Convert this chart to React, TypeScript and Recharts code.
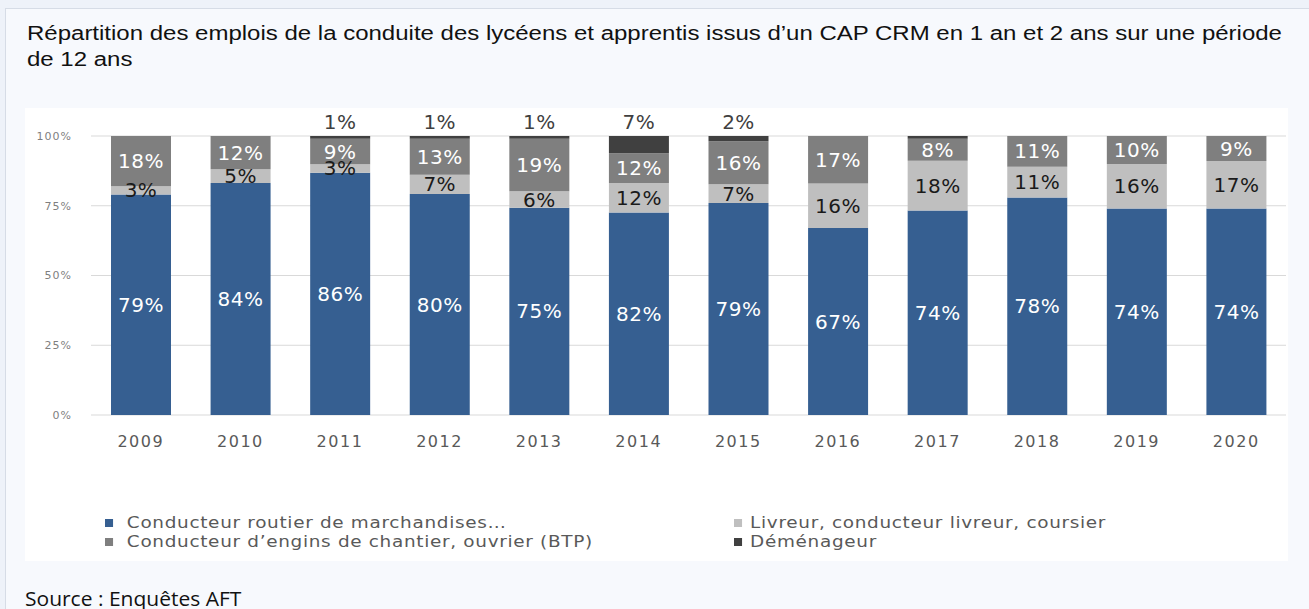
import { BarChart, Bar, XAxis, YAxis, CartesianGrid, LabelList } from 'recharts'

const years = ['2009', '2010', '2011', '2012', '2013', '2014', '2015', '2016', '2017', '2018', '2019', '2020']
const routier = [79, 84, 86, 80, 75, 82, 79, 67, 74, 78, 74, 74]
const livreur = [3, 5, 3, 7, 6, 12, 7, 16, 18, 11, 16, 17]
const engins = [18, 12, 9, 13, 19, 12, 16, 17, 8, 11, 10, 9]
const demenageur = [0, 0, 1, 1, 1, 7, 2, 0, 1, 0, 0, 0]
// 2017 has a thin dark slice but no label in the source
const demenageurLabels = [null, null, '1%', '1%', '1%', '7%', '2%', null, null, null, null, null]
const yTicks = [0, 0.25, 0.5, 0.75, 1]

const seriesNames = [
  'Conducteur routier de marchandises…',
  'Livreur, conducteur livreur, coursier',
  'Conducteur d’engins de chantier, ouvrier (BTP)',
  'Déménageur',
]
const colors = ['#365f91', '#bfbfbf', '#7f7f7f', '#404040']

const data = years.map((year, i) => ({
  year,
  routier: routier[i],
  livreur: livreur[i],
  engins: engins[i],
  demenageur: demenageur[i],
}))

const pct = (arr: number[]) => arr.map((v) => `${v}%`)

const chartFont = '"DejaVu Sans", sans-serif'

function rectOf(props: any) {
  const vb = props.viewBox || {}
  return {
    x: Number(props.x ?? vb.x),
    y: Number(props.y ?? vb.y),
    w: Number(props.width ?? vb.width),
    h: Number(props.height ?? vb.height),
  }
}

function labelText(x: number, y: number, t: string, fill: string) {
  return (
    <text
      x={x}
      y={y}
      fill={fill}
      textAnchor="middle"
      dominantBaseline="central"
      fontFamily={chartFont}
      fontSize={20}
      letterSpacing={0.5}
    >
      {t}
    </text>
  )
}

function makeLabel(texts: string[], fill: string) {
  return (props: any) => {
    const { x, y, w, h } = rectOf(props)
    const t = texts[props.index]
    if (!t || isNaN(x)) return null
    return labelText(x + w / 2, y + h / 2, t, fill)
  }
}

// the Déménageur labels sit above the stack; zero slices are not drawn,
// so they hang off the "engins" rects (present for every year) instead
function aboveLabel(props: any) {
  const { x, y, w, h } = rectOf(props)
  const i = props.index
  const t = demenageurLabels[i]
  if (!t || isNaN(x)) return null
  const top = y - (h * demenageur[i]) / engins[i]
  return labelText(x + w / 2, top - 14, t, '#404040')
}

export default function App() {
  return (
    <div style={{ position: 'absolute', left: 0, top: 0, width: 1309, height: 609, overflow: 'hidden', background: '#eef2f9' }}>
      <div style={{ position: 'absolute', left: 5, top: 8, width: 1320, height: 620, background: '#f7f9fd', border: '1px solid #d6dce6' }} />
      <div
        style={{
          position: 'absolute',
          left: 27,
          top: 20,
          fontFamily: '"Liberation Sans", Arial, sans-serif',
          fontSize: 20,
          lineHeight: '26px',
          color: '#111111',
          whiteSpace: 'nowrap',
          transform: 'scaleX(1.2)',
          transformOrigin: 'left top',
        }}
      >
        Répartition des emplois de la conduite des lycéens et apprentis issus d’un CAP CRM en 1 an et 2 ans sur une période
        <br />
        de 12 ans
      </div>

      <div style={{ position: 'absolute', left: 25, top: 108, width: 1263, height: 453, background: '#ffffff' }}>
        <BarChart width={1263} height={453} data={data} stackOffset="expand" margin={{ top: 28, right: 2, left: 0, bottom: 106 }}>
          <CartesianGrid stroke="#d9d9d9" vertical={false} />
          <XAxis
            dataKey="year"
            axisLine={false}
            tickLine={false}
            height={40}
            tickMargin={15}
            tick={{ fill: '#595959', fontSize: 16, fontFamily: chartFont, letterSpacing: 1.5 }}
          />
          <YAxis
            width={66}
            domain={[0, 1]}
            ticks={yTicks}
            axisLine={false}
            tickLine={false}
            tickMargin={13}
            tickFormatter={(v: number) => `${Math.round(v * 100)}%`}
            tick={{ fill: '#7f7f7f', fontSize: 11, fontFamily: chartFont, letterSpacing: 1 }}
          />
          <Bar dataKey="routier" stackId="a" fill={colors[0]} barSize={60} isAnimationActive={false}>
            <LabelList dataKey="routier" content={makeLabel(pct(routier), '#ffffff')} />
          </Bar>
          <Bar dataKey="livreur" stackId="a" fill={colors[1]} barSize={60} isAnimationActive={false}>
            <LabelList dataKey="livreur" content={makeLabel(pct(livreur), '#1a1a1a')} />
          </Bar>
          <Bar dataKey="engins" stackId="a" fill={colors[2]} barSize={60} isAnimationActive={false}>
            <LabelList dataKey="engins" content={makeLabel(pct(engins), '#ffffff')} />
            <LabelList dataKey="demenageur" content={aboveLabel} />
          </Bar>
          <Bar dataKey="demenageur" stackId="a" fill={colors[3]} barSize={60} isAnimationActive={false} />
        </BarChart>

        {seriesNames.map((name, i) => (
          <div
            key={name}
            style={{
              position: 'absolute',
              left: i % 2 === 0 ? 80 : 709,
              top: i < 2 ? 405 : 424,
              display: 'flex',
              alignItems: 'center',
              fontFamily: chartFont,
              fontSize: 16,
              letterSpacing: 0.6,
              color: '#595959',
              whiteSpace: 'nowrap',
              lineHeight: '19px',
              transform: 'scaleX(1.15)',
              transformOrigin: 'left center',
            }}
          >
            <span style={{ display: 'inline-block', width: 7, height: 8, background: colors[i], marginRight: i % 2 === 0 ? 12 : 7 }} />
            {name}
          </div>
        ))}
      </div>

      <div
        style={{
          position: 'absolute',
          left: 25,
          top: 586,
          fontFamily: '"Open Sans", sans-serif',
          fontSize: 20,
          lineHeight: '26px',
          color: '#111111',
          whiteSpace: 'nowrap',
          transform: 'scaleX(1.05)',
          transformOrigin: 'left top',
        }}
      >
        Source : Enquêtes AFT
      </div>
    </div>
  )
}
